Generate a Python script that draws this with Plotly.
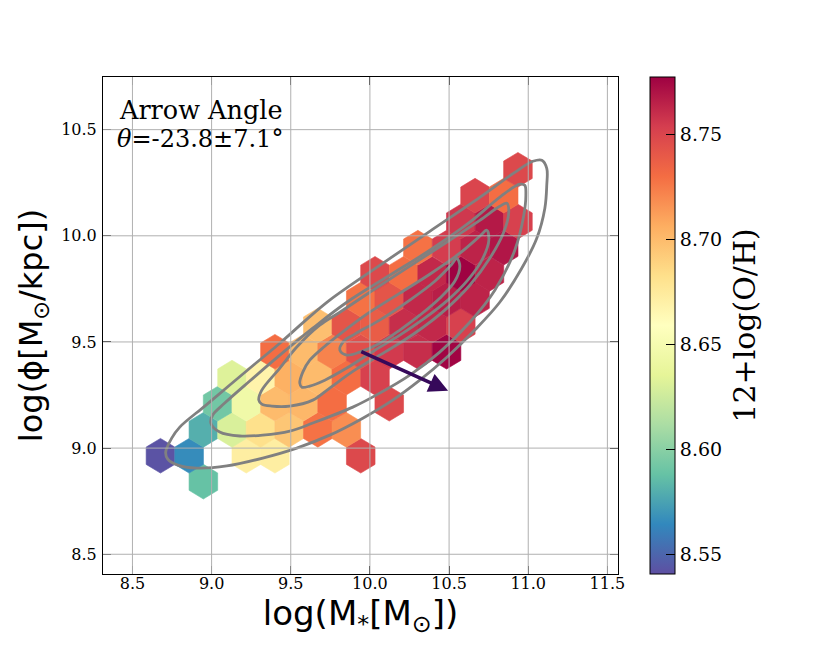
import plotly.graph_objects as go
import plotly.express as px
from plotly.colors import make_colorscale, sample_colorscale

# hexbin cells: centre mass, centre density, mean metallicity
hex_x = [8.948,
         8.677, 8.858, 9.219, 9.400, 9.942,
         8.948, 9.129, 9.309, 9.490, 9.671, 9.851,
         9.038, 9.219, 9.400, 9.580, 9.761, 10.122,
         9.129, 9.309, 9.490, 9.671, 9.851, 10.032,
         9.400, 9.580, 9.761, 9.942, 10.122, 10.303, 10.484,
         9.671, 9.851, 10.032, 10.213, 10.393, 10.574,
         9.942, 10.122, 10.303, 10.484, 10.664,
         10.032, 10.213, 10.393, 10.574, 10.755,
         10.303, 10.484, 10.664, 10.845,
         10.574, 10.755, 10.935,
         10.664, 10.845,
         10.935]
hex_y = [8.842,
         8.964, 8.964, 8.964, 8.964, 8.964,
         9.086, 9.086, 9.086, 9.086, 9.086, 9.086,
         9.209, 9.209, 9.209, 9.209, 9.209, 9.209,
         9.332, 9.332, 9.332, 9.332, 9.332, 9.332,
         9.454, 9.454, 9.454, 9.454, 9.454, 9.454, 9.454,
         9.577, 9.577, 9.577, 9.577, 9.577, 9.577,
         9.699, 9.699, 9.699, 9.699, 9.699,
         9.821, 9.821, 9.821, 9.821, 9.821,
         9.944, 9.944, 9.944, 9.944,
         10.067, 10.067, 10.067,
         10.189, 10.189,
         10.311]
hex_z = [8.588,
         8.542, 8.566, 8.672, 8.672, 8.748,
         8.580, 8.630, 8.682, 8.695, 8.728, 8.718,
         8.592, 8.645, 8.700, 8.702, 8.730, 8.748,
         8.632, 8.668, 8.705, 8.700, 8.730, 8.752,
         8.730, 8.700, 8.722, 8.745, 8.755, 8.760, 8.776,
         8.698, 8.742, 8.738, 8.760, 8.762, 8.752,
         8.728, 8.742, 8.762, 8.766, 8.764,
         8.748, 8.730, 8.762, 8.777, 8.764,
         8.728, 8.754, 8.764, 8.769,
         8.756, 8.768, 8.752,
         8.750, 8.730,
         8.748]

# density contours (outer to inner)
c1_x = [8.710, 8.748, 8.799, 8.957, 9.115, 9.273, 9.431, 9.588, 9.746, 10.062, 10.378, 10.694,
        10.915, 11.029, 11.086, 11.117, 11.117, 11.105, 11.054, 10.959, 10.820, 10.662, 10.486,
        10.315, 10.144, 9.955, 9.746, 9.538, 9.323, 9.096, 8.906, 8.786, 8.723, 8.710]
c1_y = [8.981, 9.047, 9.099, 9.198, 9.297, 9.396, 9.494, 9.598, 9.697, 9.861, 10.021, 10.181,
        10.299, 10.351, 10.356, 10.318, 10.238, 10.130, 9.988, 9.847, 9.687, 9.556, 9.428,
        9.320, 9.226, 9.141, 9.061, 9.000, 8.953, 8.916, 8.906, 8.920, 8.948, 8.981]
c2_x = [8.995, 9.007, 9.083, 9.241, 9.431, 9.639, 9.854, 10.125, 10.378, 10.631, 10.827, 10.947,
        10.978, 10.985, 10.972, 10.915, 10.789, 10.631, 10.441, 10.252, 10.062, 9.892, 9.639,
        9.494, 9.323, 9.178, 9.051, 8.995]
c2_y = [9.118, 9.156, 9.212, 9.316, 9.438, 9.565, 9.687, 9.814, 9.932, 10.064, 10.186, 10.243,
        10.238, 10.191, 10.097, 9.932, 9.744, 9.593, 9.452, 9.344, 9.259, 9.193, 9.118,
        9.080, 9.061, 9.057, 9.076, 9.118]
c3_x = [9.298, 9.317, 9.431, 9.538, 9.683, 9.810, 9.999, 10.252, 10.504, 10.694, 10.820, 10.865,
        10.877, 10.845, 10.757, 10.631, 10.473, 10.283, 10.094, 9.904, 9.746, 9.639, 9.494,
        9.380, 9.317, 9.298]
c3_y = [9.226, 9.273, 9.377, 9.476, 9.579, 9.640, 9.734, 9.857, 9.979, 10.073, 10.139, 10.153,
        10.111, 10.017, 9.894, 9.767, 9.650, 9.541, 9.452, 9.367, 9.283, 9.226, 9.198,
        9.198, 9.207, 9.226]
c4_x = [9.557, 9.576, 9.620, 9.715, 9.810, 9.980, 10.189, 10.378, 10.568, 10.694, 10.738, 10.751,
        10.713, 10.618, 10.492, 10.346, 10.189, 10.031, 9.854, 9.715, 9.620, 9.570, 9.557]
c4_y = [9.306, 9.358, 9.414, 9.480, 9.537, 9.631, 9.730, 9.819, 9.918, 9.998, 10.026, 9.979,
        9.894, 9.791, 9.697, 9.612, 9.532, 9.461, 9.377, 9.320, 9.292, 9.287, 9.306]
c5_x = [9.810, 9.835, 9.904, 10.062, 10.252, 10.410, 10.517, 10.549, 10.568, 10.536, 10.441,
        10.315, 10.189, 10.062, 9.936, 9.854, 9.810]
c5_y = [9.461, 9.504, 9.537, 9.603, 9.697, 9.786, 9.866, 9.894, 9.857, 9.786, 9.706,
        9.626, 9.556, 9.494, 9.452, 9.438, 9.461]
contours = [(c1_x, c1_y), (c2_x, c2_y), (c3_x, c3_y), (c4_x, c4_y), (c5_x, c5_y)]

# mean gradient arrow (tail -> head)
arrow_tail = (9.936, 9.458)
arrow_head = (10.494, 9.270)

x_ticks = [8.5, 9.0, 9.5, 10.0, 10.5, 11.0, 11.5]
y_ticks = [8.5, 9.0, 9.5, 10.0, 10.5]
cb_ticks = [8.55, 8.60, 8.65, 8.70, 8.75]
z_min, z_max = 8.5405, 8.7773

# hexbin cell size (data units)
sx = 0.1807
sy = 0.245

cscale = make_colorscale(px.colors.diverging.Spectral[::-1])
hex_colors = sample_colorscale(cscale, [(z - z_min) / (z_max - z_min) for z in hex_z])

serif = dict(family='DejaVu Serif', color='black')

fig = go.Figure()

for cx, cy, col in zip(hex_x, hex_y, hex_colors):
    vx = [cx + sx / 2, cx, cx - sx / 2, cx - sx / 2, cx, cx + sx / 2, cx + sx / 2]
    vy = [cy + sy / 6, cy + sy / 3, cy + sy / 6, cy - sy / 6, cy - sy / 3, cy - sy / 6, cy + sy / 6]
    fig.add_trace(go.Scatter(x=vx, y=vy, mode='lines', fill='toself', fillcolor=col,
                             line=dict(width=0.6, color=col), showlegend=False, hoverinfo='skip'))

# invisible markers that carry the colour scale
fig.add_trace(go.Scatter(
    x=hex_x, y=hex_y, mode='markers',
    marker=dict(size=1, opacity=0, color=hex_z, colorscale=cscale, cmin=z_min, cmax=z_max,
                showscale=True,
                colorbar=dict(
                    x=1.063, xanchor='left', xpad=0, y=0.5, yanchor='middle', ypad=0,
                    len=1, lenmode='fraction',
                    thickness=25, outlinewidth=1, outlinecolor='black',
                    ticks='inside', ticklen=9, tickwidth=1, tickcolor='black',
                    tickvals=cb_ticks, ticktext=[f"{v:.2f}" for v in cb_ticks],
                    tickfont=dict(size=19, **serif))),
    showlegend=False, hoverinfo='skip'))

for cxs, cys in contours:
    fig.add_trace(go.Scatter(x=cxs, y=cys, mode='lines',
                             line=dict(color='#808080', width=2.8, shape='spline', smoothing=1.0),
                             showlegend=False, hoverinfo='skip'))

# grid drawn above the hexagons, as in the original
grid = []
for v in x_ticks:
    grid.append(dict(type='line', xref='x', yref='paper', x0=v, x1=v, y0=0, y1=1,
                     line=dict(color='#b0b0b0', width=1), layer='above'))
for v in y_ticks:
    grid.append(dict(type='line', xref='paper', yref='y', x0=0, x1=1, y0=v, y1=v,
                     line=dict(color='#b0b0b0', width=1), layer='above'))

fig.add_annotation(x=arrow_head[0], y=arrow_head[1], ax=arrow_tail[0], ay=arrow_tail[1],
                   xref='x', yref='y', axref='x', ayref='y', text='', showarrow=True,
                   arrowhead=2, arrowsize=1.1, arrowwidth=3.5, arrowcolor='#36095a')

fig.add_annotation(x=0.027, y=0.934, xref='paper', yref='paper', xanchor='left', yanchor='middle',
                   text='Arrow Angle', showarrow=False, font=dict(size=25.5, **serif))
fig.add_annotation(x=0.024, y=0.876, xref='paper', yref='paper', xanchor='left', yanchor='middle',
                   text='<i>θ</i>=-23.8±7.1°', showarrow=False, font=dict(size=24, **serif))

# colour bar label
fig.add_annotation(x=1.245, y=0.5, xref='paper', yref='paper', xanchor='center', yanchor='middle',
                   text='12+log(O/H)', textangle=-90, showarrow=False, font=dict(size=30, **serif))

axis_common = dict(showline=True, linecolor='black', linewidth=1, mirror='ticks',
                   ticks='inside', ticklen=8, tickwidth=1, tickcolor='black',
                   showgrid=False, zeroline=False,
                   tickfont=dict(size=16, **serif))

fig.update_layout(
    width=830, height=646,
    margin=dict(l=103, r=212, t=77, b=72),
    paper_bgcolor='white', plot_bgcolor='white',
    font=dict(family='DejaVu Serif', color='black'),
    shapes=grid,
    xaxis=dict(range=[8.314, 11.567], tickvals=x_ticks, ticktext=[f"{v:.1f}" for v in x_ticks],
               ticklabelstandoff=-5,
               title=dict(text='log(M<sub>*</sub>[M<sub>⊙</sub>])', standoff=8,
                          font=dict(family='DejaVu Sans', size=34, color='black')),
               **axis_common),
    yaxis=dict(range=[8.407, 10.748], tickvals=y_ticks, ticktext=[f"{v:.1f}" for v in y_ticks],
               ticklabelstandoff=2,
               title=dict(text='log(ϕ[M<sub>⊙</sub>/kpc])', standoff=8,
                          font=dict(family='DejaVu Sans', size=32, color='black')),
               **axis_common),
)

fig.write_html("out.html", config={'displayModeBar': False},
               post_script="document.body.style.margin='0px';")
